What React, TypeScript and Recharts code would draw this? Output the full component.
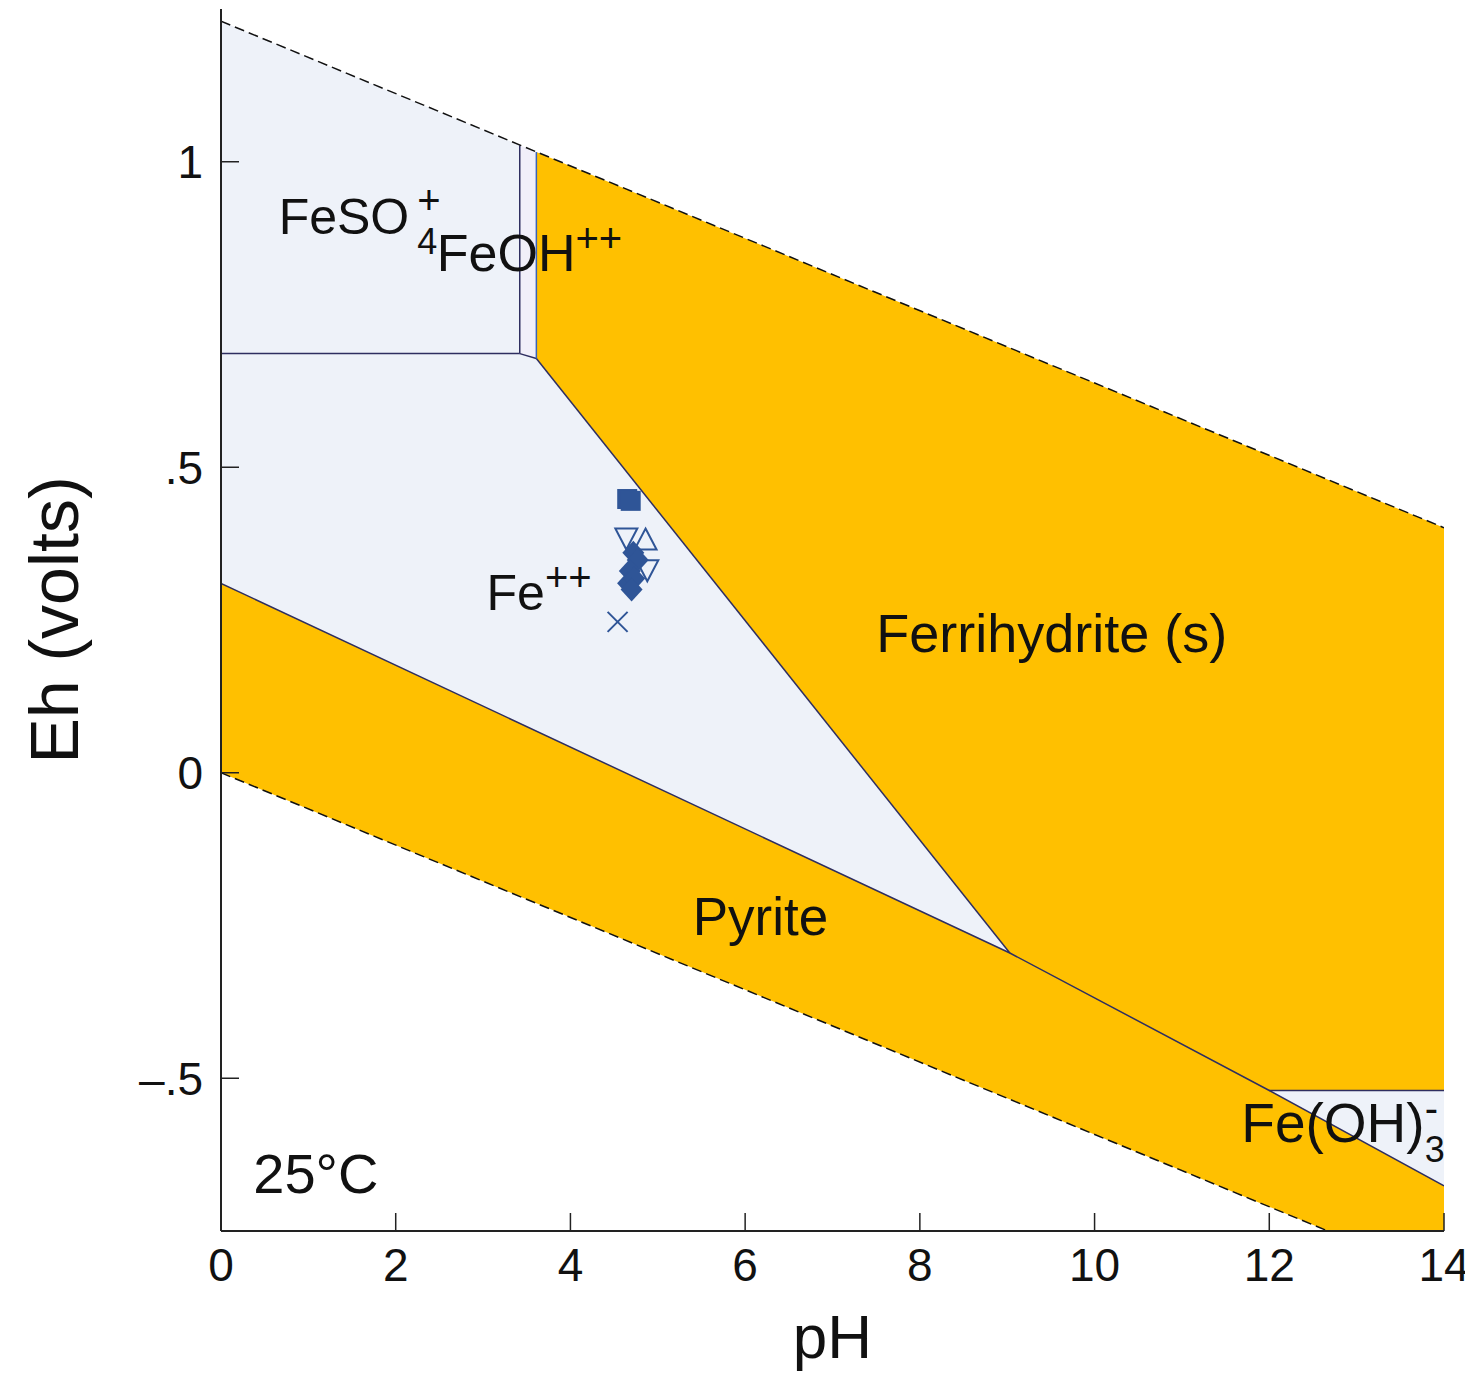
import React from 'react';
import { ComposedChart, Scatter, XAxis, YAxis } from 'recharts';

const W = 1465;
const H = 1365;
const FONT = '"Liberation Sans", Arial, Helvetica, sans-serif';

const YELLOW = '#FFC000';
const PALE = '#EEF2F9';
const LAVENDER = '#F1EFF9';
const EDGE = '#2E2E60';
const BLUE = '#2F5597';

const xTicks = [0, 2, 4, 6, 8, 10, 12, 14];
const yTicks = [-0.5, 0, 0.5, 1];

// stability fields, [pH, Eh]
const feso4Field = [[0, 0.686], [3.42, 0.686], [3.42, 1.027], [0, 1.23]];
const feohField = [[3.42, 0.686], [3.61, 0.678], [3.61, 1.016], [3.42, 1.027]];
const ferriField = [[3.61, 1.016], [3.61, 0.678], [9.03, -0.295], [12.0, -0.52], [14, -0.52], [14, 0.401]];
const feField = [[0, 0.686], [3.42, 0.686], [3.61, 0.678], [9.03, -0.295], [0, 0.31]];
const pyriteField = [[0, 0.31], [9.03, -0.295], [12.0, -0.52], [14, -0.676], [14, -0.75], [12.67, -0.75], [0, 0]];
const feoh3Field = [[12.0, -0.52], [14, -0.52], [14, -0.676]];

// field boundaries
const feso4Bottom = [[0, 0.686], [3.42, 0.686]];
const feso4Right = [[3.42, 0.686], [3.42, 1.027]];
const feohBottom = [[3.42, 0.686], [3.61, 0.678]];
const feohRight = [[3.61, 0.678], [3.61, 1.016]];
const ferriEdge = [[3.61, 0.678], [9.03, -0.295]];
const pyriteTop = [[0, 0.31], [9.03, -0.295], [12.0, -0.52], [14, -0.676]];
const feoh3Top = [[12.0, -0.52], [14, -0.52]];

// water stability limits
const waterUpper = [[0, 1.23], [14, 0.401]];
const waterLower = [[0, 0], [12.67, -0.75]];

// samples
const squares = [[4.65, 0.448], [4.69, 0.445]];
const diamonds = [[4.72, 0.36], [4.77, 0.348], [4.68, 0.33], [4.66, 0.31], [4.73, 0.318], [4.7, 0.3]];
const triUps = [[4.86, 0.38]];
const triDowns = [[4.64, 0.385], [4.88, 0.333]];
const crosses = [[4.54, 0.247]];

const labels = [
  { x: 0.66, y: 0.881, main: 'FeSO', sub: '4', sup: '+' },
  { x: 2.47, y: 0.822, main: 'FeOH', sup: '++' },
  { x: 3.04, y: 0.266, main: 'Fe', sup: '++' },
  { x: 7.5, y: 0.198, main: 'Ferrihydrite (s)' },
  { x: 5.4, y: -0.265, main: 'Pyrite' },
  { x: 11.68, y: -0.605, main: 'Fe(OH)', sub: '3', sup: '-' },
  { x: 0.37, y: -0.688, main: '25°C' },
];
const labelSizes = [50, 52, 50, 54, 53, 55, 56];
const subGap = [8, 0, 0, 0, 0, 0, 0];

const pts = (a: number[][]) => a.map(([x, y]) => ({ x, y }));
const noDot = () => <g />;

const fields = [
  { name: 'feso4', d: feso4Field, fill: PALE },
  { name: 'feoh', d: feohField, fill: LAVENDER },
  { name: 'ferri', d: ferriField, fill: YELLOW },
  { name: 'fe', d: feField, fill: PALE },
  { name: 'pyrite', d: pyriteField, fill: YELLOW },
  { name: 'feoh3', d: feoh3Field, fill: PALE },
];

const edges = [
  { name: 'b1', d: feso4Bottom, stroke: EDGE },
  { name: 'b2', d: feso4Right, stroke: EDGE },
  { name: 'b3', d: feohBottom, stroke: EDGE },
  { name: 'b4', d: feohRight, stroke: '#3A62B8' },
  { name: 'b5', d: ferriEdge, stroke: EDGE },
  { name: 'b6', d: pyriteTop, stroke: EDGE },
  { name: 'b7', d: feoh3Top, stroke: EDGE },
];

const sqShape = (p: any) => (
  <rect x={p.cx - 10} y={p.cy - 10} width={20} height={20} fill={BLUE} />
);
const diaShape = (p: any) => (
  <polygon
    points={`${p.cx},${p.cy - 12} ${p.cx + 11},${p.cy} ${p.cx},${p.cy + 12} ${p.cx - 11},${p.cy}`}
    fill={BLUE}
  />
);
const upShape = (p: any) => (
  <polygon
    points={`${p.cx},${p.cy - 12} ${p.cx + 11},${p.cy + 9} ${p.cx - 11},${p.cy + 9}`}
    fill="none"
    stroke={BLUE}
    strokeWidth={2}
  />
);
const downShape = (p: any) => (
  <polygon
    points={`${p.cx},${p.cy + 12} ${p.cx + 11},${p.cy - 9} ${p.cx - 11},${p.cy - 9}`}
    fill="none"
    stroke={BLUE}
    strokeWidth={2}
  />
);
const xShape = (p: any) => (
  <path
    d={`M${p.cx - 10},${p.cy - 10}L${p.cx + 10},${p.cy + 10}M${p.cx + 10},${p.cy - 10}L${p.cx - 10},${p.cy + 10}`}
    stroke={BLUE}
    strokeWidth={2}
    fill="none"
  />
);

const labelShape = (p: any) => {
  const l = p.payload;
  const i = labels.indexOf(l);
  const fs = labelSizes[i] || 50;
  return (
    <text x={p.cx} y={p.cy} fontSize={fs} fontFamily={FONT} fill="#111">
      <tspan>{l.main}</tspan>
      {l.sub && (
        <tspan fontSize={36} dx={subGap[i] || 0} dy={20}>
          {l.sub}
        </tspan>
      )}
      {l.sup && (
        <tspan fontSize={40} dx={l.sub ? -20 : 0} dy={l.sub ? -40 : -19}>
          {l.sup}
        </tspan>
      )}
    </text>
  );
};

const fmtY = (v: number) => {
  if (v === 0) return '0';
  if (v === 1) return '1';
  return v < 0 ? '–' + String(-v).replace(/^0/, '') : String(v).replace(/^0/, '');
};

const tickStyle = { fontSize: 46, fontFamily: FONT, fill: '#111' };
const axisLine = { stroke: '#222', strokeWidth: 2 };
const tickLine = { stroke: '#222', strokeWidth: 1.5 };

export default function App() {
  return (
    <div style={{ width: W, height: H, background: '#fff' }}>
      <ComposedChart width={W} height={H} margin={{ top: 1, right: 29, left: 0, bottom: 0 }}>
        {fields.map((f) => (
          <Scatter
            key={f.name}
            xAxisId="b"
            yAxisId="l"
            data={pts(f.d)}
            shape={noDot}
            line={{ fill: f.fill, stroke: 'none' }}
            lineType="joint"
            isAnimationActive={false}
            zIndex={100}
          />
        ))}
        {edges.map((e) => (
          <Scatter
            key={e.name}
            xAxisId="b"
            yAxisId="l"
            data={pts(e.d)}
            shape={noDot}
            line={{ stroke: e.stroke, strokeWidth: 1.5, fill: 'none' }}
            lineType="joint"
            isAnimationActive={false}
            zIndex={110}
          />
        ))}
        {[waterUpper, waterLower].map((d, i) => (
          <Scatter
            key={'w' + i}
            xAxisId="b"
            yAxisId="l"
            data={pts(d)}
            shape={noDot}
            line={{ stroke: '#111', strokeWidth: 1.5, strokeDasharray: '10 5', fill: 'none' }}
            lineType="joint"
            isAnimationActive={false}
            zIndex={120}
          />
        ))}
        <Scatter xAxisId="b" yAxisId="l" data={pts(triDowns)} shape={downShape} isAnimationActive={false} />
        <Scatter xAxisId="b" yAxisId="l" data={pts(triUps)} shape={upShape} isAnimationActive={false} />
        <Scatter xAxisId="b" yAxisId="l" data={pts(diamonds)} shape={diaShape} isAnimationActive={false} />
        <Scatter xAxisId="b" yAxisId="l" data={pts(squares)} shape={sqShape} isAnimationActive={false} />
        <Scatter xAxisId="b" yAxisId="l" data={pts(crosses)} shape={xShape} isAnimationActive={false} />
        <Scatter xAxisId="b" yAxisId="l" data={labels} shape={labelShape} isAnimationActive={false} />

        <XAxis
          xAxisId="b"
          dataKey="x"
          type="number"
          domain={[0, 14]}
          allowDataOverflow
          ticks={xTicks}
          height={142}
          tickSize={-18}
          tickMargin={35}
          tick={tickStyle}
          axisLine={axisLine}
          tickLine={tickLine}
          label={{ value: 'pH', position: 'insideBottom', offset: 15, fontSize: 62, fontFamily: FONT, fill: '#111' }}
        />
        <XAxis
          xAxisId="t"
          orientation="top"
          type="number"
          domain={[0, 14]}
          allowDataOverflow
          ticks={xTicks}
          height={0}
          tickSize={-18}
          tick={false}
          axisLine={axisLine}
          tickLine={tickLine}
        />
        <YAxis
          yAxisId="l"
          dataKey="y"
          type="number"
          domain={[-0.75, 1.25]}
          allowDataOverflow
          ticks={yTicks}
          width={213}
          tickSize={-18}
          tickMargin={36}
          tickFormatter={fmtY}
          tick={tickStyle}
          axisLine={axisLine}
          tickLine={tickLine}
          label={{
            content: (props: any) => {
              const vb = props.viewBox || { x: 0, y: 1, width: 213, height: 1222 };
              const cx = vb.x + vb.width - 167;
              const cy = vb.y + vb.height / 2;
              return (
                <text
                  x={cx}
                  y={cy}
                  transform={`rotate(-90, ${cx}, ${cy})`}
                  textAnchor="middle"
                  dominantBaseline="central"
                  fontSize={68}
                  fontFamily={FONT}
                  fill="#111"
                >
                  Eh (volts)
                </text>
              );
            },
          }}
        />
        <YAxis
          yAxisId="r"
          orientation="right"
          type="number"
          domain={[-0.75, 1.25]}
          allowDataOverflow
          ticks={yTicks}
          width={0}
          tickSize={-18}
          tick={false}
          axisLine={axisLine}
          tickLine={tickLine}
        />
      </ComposedChart>
    </div>
  );
}
